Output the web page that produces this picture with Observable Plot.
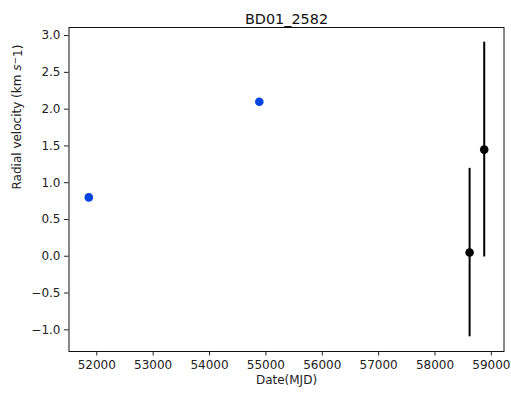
<!DOCTYPE html>
<html><head><meta charset="utf-8">
<script src="https://cdn.jsdelivr.net/npm/d3@7"></script>
<script src="https://cdn.jsdelivr.net/npm/@observablehq/plot@0.6"></script>
<style>body{margin:0;background:#fff}</style>
</head><body><div id="chart"></div>
<script>
const titleText = "BD01_2582";
const xLabel = "Date(MJD)";
const blueDates = [51858, 54883];
const blueRV = [0.80, 2.10];
const blackDates = [58614, 58873];
const blackRV = [0.05, 1.45];
const blackErr = [1.145, 1.46];
const xTicks = [52000, 53000, 54000, 55000, 56000, 57000, 58000, 59000];
const yTicks = [-1.0, -0.5, 0.0, 0.5, 1.0, 1.5, 2.0, 2.5, 3.0];

const blueData = blueDates.map((d, i) => ({mjd: d, rv: blueRV[i]}));
const blackData = blackDates.map((d, i) => ({mjd: d, rv: blackRV[i], lo: blackRV[i] - blackErr[i], hi: blackRV[i] + blackErr[i]}));

const fmt = d3.format(".1f");
const plot = Plot.plot({
  width: 511, height: 396,
  marginLeft: 68.5, marginRight: 7.5, marginTop: 27, marginBottom: 45,
  style: {fontFamily: "DejaVu Sans", background: "#fff", color: "#222"},
  x: {domain: [51507, 59224]},
  y: {domain: [-1.295, 3.11]},
  marks: [
    Plot.ruleX(blackData, {x: "mjd", y1: "lo", y2: "hi", stroke: "black", strokeWidth: 2}),
    Plot.dot(blueData, {x: "mjd", y: "rv", r: 4.3, fill: "#0343df", stroke: "none"}),
    Plot.dot(blackData, {x: "mjd", y: "rv", r: 4.3, fill: "black", stroke: "none"}),
    Plot.frame({stroke: "#111", strokeWidth: 1}),
    Plot.axisX({ticks: xTicks, tickSize: 4.5, tickPadding: 4, fontSize: 12, tickFormat: d => String(d), label: null, stroke: "#222"}),
    Plot.axisY({ticks: yTicks, tickSize: 4.5, tickPadding: 4, fontSize: 12, tickFormat: fmt, label: null, stroke: "#222"}),
    Plot.text([titleText], {frameAnchor: "top", dy: -14, fontSize: 14.4, fill: "#111"}),
    Plot.text([xLabel], {frameAnchor: "bottom", dy: 32, fontSize: 12, fill: "#222"}),
    Plot.text(["Radial velocity (km s-1)"], {frameAnchor: "left", dx: -52, rotate: -90, fontSize: 12, fill: "#222", className: "ylab"})
  ]
});
document.getElementById("chart").appendChild(plot);
const t = d3.select(plot).select(".ylab text");
t.text(null);
t.append("tspan").text("Radial velocity (km ");
t.append("tspan").attr("font-style", "italic").text("s");
t.append("tspan").attr("dy", "-0.35em").attr("font-size", "9").text("\u2212");
t.append("tspan").attr("dy", "0.35em").text("1)");
</script>
</body></html>
